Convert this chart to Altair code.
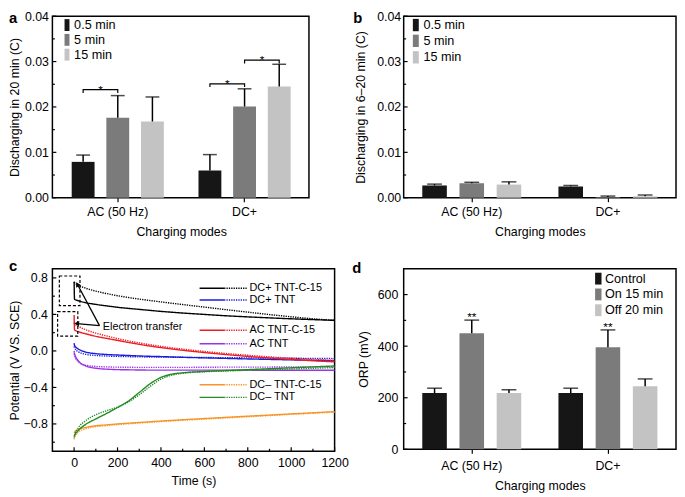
import math
import altair as alt
import pandas as pd

FONT = "Liberation Sans"

# ---------------- categories ----------------
modes = ["AC (50 Hz)", "DC+"]
durations = ["0.5 min", "5 min", "15 min"]
orp_groups = ["Control", "On 15 min", "Off 20 min"]
bar_colors = ["#161616", "#7b7b7b", "#c3c3c3"]

# ---------------- panel a ----------------
a_ac_mean = [0.0079, 0.0176, 0.0168]
a_ac_upper = [0.0094, 0.0225, 0.0222]
a_dc_mean = [0.0060, 0.0201, 0.0245]
a_dc_upper = [0.0095, 0.0240, 0.0294]
a_sig_mode = ["AC (50 Hz)", "DC+", "DC+"]
a_sig_from = ["0.5 min", "0.5 min", "5 min"]
a_sig_to = ["5 min", "5 min", "15 min"]
a_sig_level = [0.0238, 0.0251, 0.0303]
a_sig_drop = 0.0007

# ---------------- panel b ----------------
b_ac_mean = [0.0027, 0.0032, 0.0029]
b_ac_upper = [0.0030, 0.0034, 0.0035]
b_dc_mean = [0.0025, 0.00015, 0.0003]
b_dc_upper = [0.0027, 0.00037, 0.0006]

# ---------------- panel d ----------------
d_ac_mean = [218, 450, 218]
d_ac_upper = [237, 501, 231]
d_dc_mean = [218, 396, 245]
d_dc_upper = [237, 463, 273]
d_sig_group = "On 15 min"

# ---------------- axis ticks ----------------
ab_major = [0.0, 0.01, 0.02, 0.03, 0.04]
ab_minor = [0.005, 0.015, 0.025, 0.035]
d_major = [0, 200, 400, 600]
d_minor = [100, 300, 500]
c_x_major = [0, 200, 400, 600, 800, 1000, 1200]
c_x_minor = [100, 300, 500, 700, 900, 1100]
c_y_major = [-0.8, -0.4, 0.0, 0.4, 0.8]
c_y_minor = [-1.0, -0.6, -0.2, 0.2, 0.6]

# ---------------- panel c ----------------
times_c = [0, 2, 20, 50, 100, 150, 200, 250, 300, 350, 400, 450, 500, 600, 700, 800, 900, 1000, 1100, 1200]
c_series = ["DC+ TNT-C-15", "DC+ TNT", "AC TNT-C-15", "AC TNT", "DC\u2013 TNT-C-15", "DC\u2013 TNT"]
c_colors = ["#000000", "#1c1cdc", "#ec1c24", "#9a32e8", "#f7952a", "#248a24"]

dcp_c15_solid = [0.757, 0.565, 0.55, 0.53, 0.51, 0.493, 0.478, 0.466, 0.455, 0.444, 0.433, 0.424, 0.415, 0.40, 0.385, 0.373, 0.362, 0.352, 0.343, 0.335]
dcp_c15_dot = [0.757, 0.75, 0.72, 0.69, 0.655, 0.628, 0.605, 0.585, 0.568, 0.552, 0.537, 0.522, 0.508, 0.48, 0.452, 0.425, 0.398, 0.374, 0.352, 0.335]
dcp_tnt_solid = [0.085, 0.06, 0.02, -0.01, -0.03, -0.039, -0.045, -0.05, -0.055, -0.059, -0.062, -0.066, -0.07, -0.076, -0.082, -0.088, -0.093, -0.098, -0.103, -0.108]
dcp_tnt_dot = [0.05, 0.035, -0.01, -0.035, -0.05, -0.056, -0.06, -0.063, -0.065, -0.067, -0.068, -0.069, -0.07, -0.072, -0.074, -0.076, -0.078, -0.08, -0.082, -0.084]
ac_c15_solid = [0.393, 0.23, 0.21, 0.19, 0.16, 0.137, 0.115, 0.093, 0.072, 0.053, 0.036, 0.021, 0.007, -0.018, -0.04, -0.06, -0.078, -0.094, -0.108, -0.12]
ac_c15_dot = [0.31, 0.30, 0.27, 0.235, 0.195, 0.164, 0.135, 0.11, 0.088, 0.068, 0.05, 0.034, 0.02, -0.006, -0.028, -0.048, -0.065, -0.08, -0.093, -0.104]
ac_tnt_solid = [0.0, -0.03, -0.11, -0.16, -0.19, -0.2, -0.205, -0.207, -0.209, -0.21, -0.21, -0.21, -0.21, -0.211, -0.211, -0.211, -0.212, -0.212, -0.212, -0.212]
ac_tnt_dot = [-0.03, -0.05, -0.12, -0.155, -0.17, -0.175, -0.178, -0.179, -0.18, -0.18, -0.18, -0.18, -0.18, -0.179, -0.178, -0.178, -0.177, -0.176, -0.175, -0.175]
dcm_c15_solid = [-0.9, -0.89, -0.86, -0.84, -0.82, -0.81, -0.8, -0.792, -0.784, -0.776, -0.768, -0.761, -0.754, -0.741, -0.728, -0.715, -0.703, -0.69, -0.678, -0.665]
dcm_c15_dot = [-0.97, -0.95, -0.89, -0.855, -0.83, -0.818, -0.807, -0.798, -0.79, -0.782, -0.774, -0.767, -0.76, -0.747, -0.734, -0.721, -0.708, -0.695, -0.683, -0.67]
dcm_tnt_solid = [-0.935, -0.925, -0.87, -0.81, -0.745, -0.685, -0.62, -0.55, -0.455, -0.36, -0.29, -0.255, -0.24, -0.225, -0.215, -0.205, -0.195, -0.185, -0.175, -0.165]
dcm_tnt_dot = [-0.95, -0.93, -0.84, -0.77, -0.70, -0.655, -0.615, -0.56, -0.48, -0.39, -0.31, -0.265, -0.245, -0.228, -0.22, -0.212, -0.205, -0.198, -0.19, -0.183]
c_solid = [dcp_c15_solid, dcp_tnt_solid, ac_c15_solid, ac_tnt_solid, dcm_c15_solid, dcm_tnt_solid]
c_dotted = [dcp_c15_dot, dcp_tnt_dot, ac_c15_dot, ac_tnt_dot, dcm_c15_dot, dcm_tnt_dot]

# annotation boxes, arrows, legend of panel c (data coordinates)
box_t0 = [-68, -76]
box_t1 = [27, 17]
box_v0 = [0.497, 0.163]
box_v1 = [0.821, 0.43]
arrow_from_t = [117, 117]
arrow_from_v = [0.277, 0.277]
arrow_to_t = [15, 12]
arrow_to_v = [0.73, 0.30]
arrow_label = "Electron transfer"
arrow_label_t = 132
arrow_label_v = 0.26
c_leg_rows = [0.686, 0.558, 0.227, 0.078, -0.370, -0.509]
c_leg_solid = [578, 691]
c_leg_dot = [691, 795]
c_leg_text_t = 808

MAJOR_LEN = 4
MINOR_LEN = 2.5

# ---------------- helpers ----------------
def bar_table(series, ac_mean, ac_upper, dc_mean, dc_upper):
    rows = []
    for mode, means, uppers in ((modes[0], ac_mean, ac_upper), (modes[1], dc_mean, dc_upper)):
        for s, m, u in zip(series, means, uppers):
            rows.append({"mode": mode, "series": s, "value": m, "upper": u})
    return pd.DataFrame(rows)


def one_row():
    return alt.Chart(pd.DataFrame({"k": [0]}))


def letter(ch, x, y, baseline="top"):
    return one_row().mark_text(
        text=ch, fontSize=15, fontWeight="bold", font=FONT, align="left", baseline=baseline, color="black"
    ).encode(x=alt.value(x), y=alt.value(y))


def bar_legend(series, marker_x, marker_w, marker_h, text_x, rows_y):
    layers = []
    for name, col, yc in zip(series, bar_colors, rows_y):
        layers.append(one_row().mark_rect(color=col).encode(
            x=alt.value(marker_x), x2=alt.value(marker_x + marker_w),
            y=alt.value(yc - marker_h / 2), y2=alt.value(yc + marker_h / 2)))
        layers.append(one_row().mark_text(text=name, fontSize=12.8, font=FONT, align="left",
                                          baseline="middle", color="black").encode(
            x=alt.value(text_x), y=alt.value(yc)))
    return layers


def y_ticks(values, length):
    return alt.Chart(pd.DataFrame({"tv": values})).mark_rule(color="black", strokeWidth=1.2).encode(
        y=alt.Y("tv:Q"), x=alt.value(0), x2=alt.value(length))


def x_ticks(values, length, height):
    return alt.Chart(pd.DataFrame({"tx": values})).mark_rule(color="black", strokeWidth=1.2).encode(
        x=alt.X("tx:Q"), y=alt.value(height), y2=alt.value(height - length))


def bar_panel(df, series, ydomain, majors, minors, fmt, ytitle, xrange,
              cap, xlab_pad, xtitle_pad, ylab_pad, ytitle_pad):
    if xrange is not None:
        xscale = alt.Scale(domain=modes, paddingInner=0, paddingOuter=0, range=xrange)
    else:
        xscale = alt.Scale(domain=modes, paddingInner=0, paddingOuter=0)
    x = alt.X("mode:N", sort=modes, title="Charging modes", scale=xscale,
              axis=alt.Axis(labelAngle=0, bandPosition=0.5, tickSize=4, labelPadding=xlab_pad,
                            titlePadding=xtitle_pad))
    xo = alt.XOffset("series:N", sort=series,
                     scale=alt.Scale(domain=series, paddingInner=0.34, paddingOuter=0.5))
    y = alt.Y("value:Q", title=ytitle,
              scale=alt.Scale(domain=ydomain, nice=False, zero=True),
              axis=alt.Axis(values=majors, format=fmt, ticks=False, tickSize=0,
                            labelPadding=ylab_pad, titlePadding=ytitle_pad, labelOverlap=False))
    color = alt.Color("series:N", sort=series,
                      scale=alt.Scale(domain=series, range=bar_colors), legend=None)
    base = alt.Chart(df)
    bars = base.mark_bar().encode(x=x, xOffset=xo, y=y, color=color)
    stem = base.mark_rule(color="black", strokeWidth=1.5).encode(
        x=alt.X("mode:N", sort=modes), xOffset=alt.XOffset("series:N", sort=series),
        y="value:Q", y2="upper:Q")
    caps = base.mark_tick(color="black", thickness=1.5, size=cap).encode(
        x=alt.X("mode:N", sort=modes), xOffset=alt.XOffset("series:N", sort=series),
        y="upper:Q")
    return [bars, stem, caps, y_ticks(majors, MAJOR_LEN), y_ticks(minors, MINOR_LEN)]


axis_common = dict(labelFont=FONT, titleFont=FONT, labelFontSize=12.5, titleFontSize=12.5,
                   titleFontWeight="normal", labelColor="black", titleColor="black",
                   tickColor="black", tickWidth=1.2, grid=False, domain=False)

# ---------------- panel a ----------------
a_df = bar_table(durations, a_ac_mean, a_ac_upper, a_dc_mean, a_dc_upper)
a_layers = bar_panel(a_df, durations, [0, 0.04], ab_major, ab_minor, ".2f",
                     "Discharging in 20 min (C)", [2, 259], 14, 4.5, 7.5, 4, 2.7)
br_rows = []
for i, (m, f, t, lv) in enumerate(zip(a_sig_mode, a_sig_from, a_sig_to, a_sig_level)):
    br_rows += [
        {"mode": m, "series": f, "y": lv - a_sig_drop, "g": i, "o": 0},
        {"mode": m, "series": f, "y": lv, "g": i, "o": 1},
        {"mode": m, "series": t, "y": lv, "g": i, "o": 2},
        {"mode": m, "series": t, "y": lv - a_sig_drop, "g": i, "o": 3},
    ]
br_df = pd.DataFrame(br_rows)
brackets = alt.Chart(br_df).mark_line(color="black", strokeWidth=1.2).encode(
    x=alt.X("mode:N", sort=modes), xOffset=alt.XOffset("series:N", sort=durations),
    y="y:Q", detail="g:N", order="o:Q")
star_df = pd.DataFrame({"mode": a_sig_mode, "series": a_sig_from, "y": a_sig_level})
stars_a = alt.Chart(star_df).mark_text(text="*", fontSize=12, font=FONT, baseline="alphabetic",
                                       dx=17.6, dy=4, color="black").encode(
    x=alt.X("mode:N", sort=modes), xOffset=alt.XOffset("series:N", sort=durations), y="y:Q")
a_chart = alt.layer(*a_layers, brackets, stars_a,
                    *bar_legend(durations, 12.3, 5, 12, 22, [9, 24, 39]),
                    letter("a", -44, -5)).properties(width=260, height=184)

# ---------------- panel b ----------------
b_df = bar_table(durations, b_ac_mean, b_ac_upper, b_dc_mean, b_dc_upper)
b_layers = bar_panel(b_df, durations, [0, 0.04], ab_major, ab_minor, ".2f",
                     "Discharging in 6\u201320 min (C)", None, 15, 4.5, 7.5, 3, 9.6)
b_chart = alt.layer(*b_layers, *bar_legend(durations, 9.3, 6, 12.5, 20, [9, 25, 41.7]),
                    letter("b", -51, -5)).properties(width=276, height=184)

# ---------------- panel d ----------------
d_df = bar_table(orp_groups, d_ac_mean, d_ac_upper, d_dc_mean, d_dc_upper)
d_layers = bar_panel(d_df, orp_groups, [0, 700], d_major, d_minor, "d",
                     "ORP (mV)", None, 15, 6.6, 7.5, 6, 7)
stars_d = alt.Chart(d_df).transform_filter(alt.datum.series == d_sig_group).mark_text(
    text="**", fontSize=12, font=FONT, baseline="alphabetic", dy=1, color="black").encode(
    x=alt.X("mode:N", sort=modes), xOffset=alt.XOffset("series:N", sort=orp_groups), y="upper:Q")
d_chart = alt.layer(*d_layers, stars_d, *bar_legend(orp_groups, 194, 6.5, 12, 204, [10, 26, 42]),
                    letter("d", -52, 4, "alphabetic")).properties(width=276, height=183)

# ---------------- panel c ----------------
c_rows = []
for name, solid, dot in zip(c_series, c_solid, c_dotted):
    for t, v in zip(times_c, solid):
        c_rows.append({"series": name, "style": "solid", "t": t, "v": v})
    for t, v in zip(times_c, dot):
        c_rows.append({"series": name, "style": "dotted", "t": t, "v": v})
c_df = pd.DataFrame(c_rows)

C_W, C_H = 286, 185
c_xdom = [-100, 1200]
c_ydom = [-1.1, 0.9]
xsc = alt.Scale(domain=c_xdom, nice=False, zero=False)
ysc = alt.Scale(domain=c_ydom, nice=False, zero=False)
c_color = alt.Color("series:N", scale=alt.Scale(domain=c_series, range=c_colors), legend=None)
c_dash = alt.StrokeDash("style:N", scale=alt.Scale(domain=["solid", "dotted"], range=[[1, 0], [1.3, 1.1]]), legend=None)

lines = alt.Chart(c_df).mark_line(strokeWidth=1.4, interpolate="monotone").encode(
    x=alt.X("t:Q", scale=xsc, title="Time (s)",
            axis=alt.Axis(values=c_x_major, format="d", ticks=False, tickSize=0,
                          labelFlush=False, labelOverlap=False, labelPadding=5.3, titlePadding=5.8)),
    y=alt.Y("v:Q", scale=ysc, title="Potential (V VS. SCE)",
            axis=alt.Axis(values=c_y_major, format=".1f", ticks=False, tickSize=0,
                          labelOverlap=False, labelPadding=5, titlePadding=1.2)),
    color=c_color, strokeDash=c_dash)

box_df = pd.DataFrame({"t0": box_t0, "t1": box_t1, "v0": box_v0, "v1": box_v1})
boxes = alt.Chart(box_df).mark_rect(fillOpacity=0, stroke="black", strokeWidth=1.2, strokeDash=[3, 2]).encode(
    x="t0:Q", x2="t1:Q", y="v0:Q", y2="v1:Q")

px_t = C_W / (c_xdom[1] - c_xdom[0])
px_v = C_H / (c_ydom[1] - c_ydom[0])
angles = []
for t0, v0, t1, v1 in zip(arrow_from_t, arrow_from_v, arrow_to_t, arrow_to_v):
    dx = (t1 - t0) * px_t
    dy = (v1 - v0) * px_v
    angles.append((math.degrees(math.atan2(dx, dy)) + 360) % 360)
arr_df = pd.DataFrame({"t0": arrow_from_t, "v0": arrow_from_v, "t1": arrow_to_t, "v1": arrow_to_v, "ang": angles})
arrow_lines = alt.Chart(arr_df).mark_rule(color="black", strokeWidth=1.3).encode(
    x="t0:Q", y="v0:Q", x2="t1:Q", y2="v1:Q")
arrow_heads = alt.Chart(arr_df).mark_point(shape="triangle-up", filled=True, size=30, color="black", opacity=1).encode(
    x="t1:Q", y="v1:Q", angle=alt.Angle("ang:Q", scale=None))
lab_df = pd.DataFrame({"t": [arrow_label_t], "v": [arrow_label_v], "s": [arrow_label]})
arrow_text = alt.Chart(lab_df).mark_text(align="left", baseline="middle", fontSize=11, font=FONT, color="black").encode(
    x="t:Q", y="v:Q", text="s:N")

leg_rows = []
for name, vv in zip(c_series, c_leg_rows):
    leg_rows.append({"series": name, "style": "solid", "a": c_leg_solid[0], "b": c_leg_solid[1], "v": vv})
    leg_rows.append({"series": name, "style": "dotted", "a": c_leg_dot[0], "b": c_leg_dot[1], "v": vv})
leg_df = pd.DataFrame(leg_rows)
leg_lines = alt.Chart(leg_df).mark_rule(strokeWidth=1.4).encode(
    x="a:Q", x2="b:Q", y="v:Q", color=c_color, strokeDash=c_dash)
leg_txt_df = pd.DataFrame({"series": c_series, "v": c_leg_rows, "t": [c_leg_text_t] * len(c_series)})
leg_text = alt.Chart(leg_txt_df).mark_text(align="left", baseline="middle", fontSize=11, font=FONT, color="black").encode(
    x="t:Q", y="v:Q", text="series:N")

c_chart = alt.layer(lines, boxes, arrow_lines, arrow_heads, arrow_text, leg_lines, leg_text,
                    y_ticks(c_y_major, MAJOR_LEN), y_ticks(c_y_minor, MINOR_LEN),
                    x_ticks(c_x_major, MAJOR_LEN, C_H), x_ticks(c_x_minor, MINOR_LEN, C_H),
                    letter("c", -44, 2, "alphabetic")).properties(width=C_W, height=C_H)

# ---------------- assemble ----------------
chart = alt.concat(a_chart, b_chart, c_chart, d_chart, columns=2,
                   spacing={"row": 72, "column": 70}, bounds="flush", align="each").resolve_scale(
    color="independent", x="independent", y="independent", xOffset="independent", strokeDash="independent"
).properties(padding={"top": -2, "left": 0, "right": 0, "bottom": 0}).configure(font=FONT).configure_axis(
    **axis_common).configure_view(stroke="black", strokeWidth=1.5)

chart.save("out.html", embed_options={"renderer": "svg", "actions": False})
